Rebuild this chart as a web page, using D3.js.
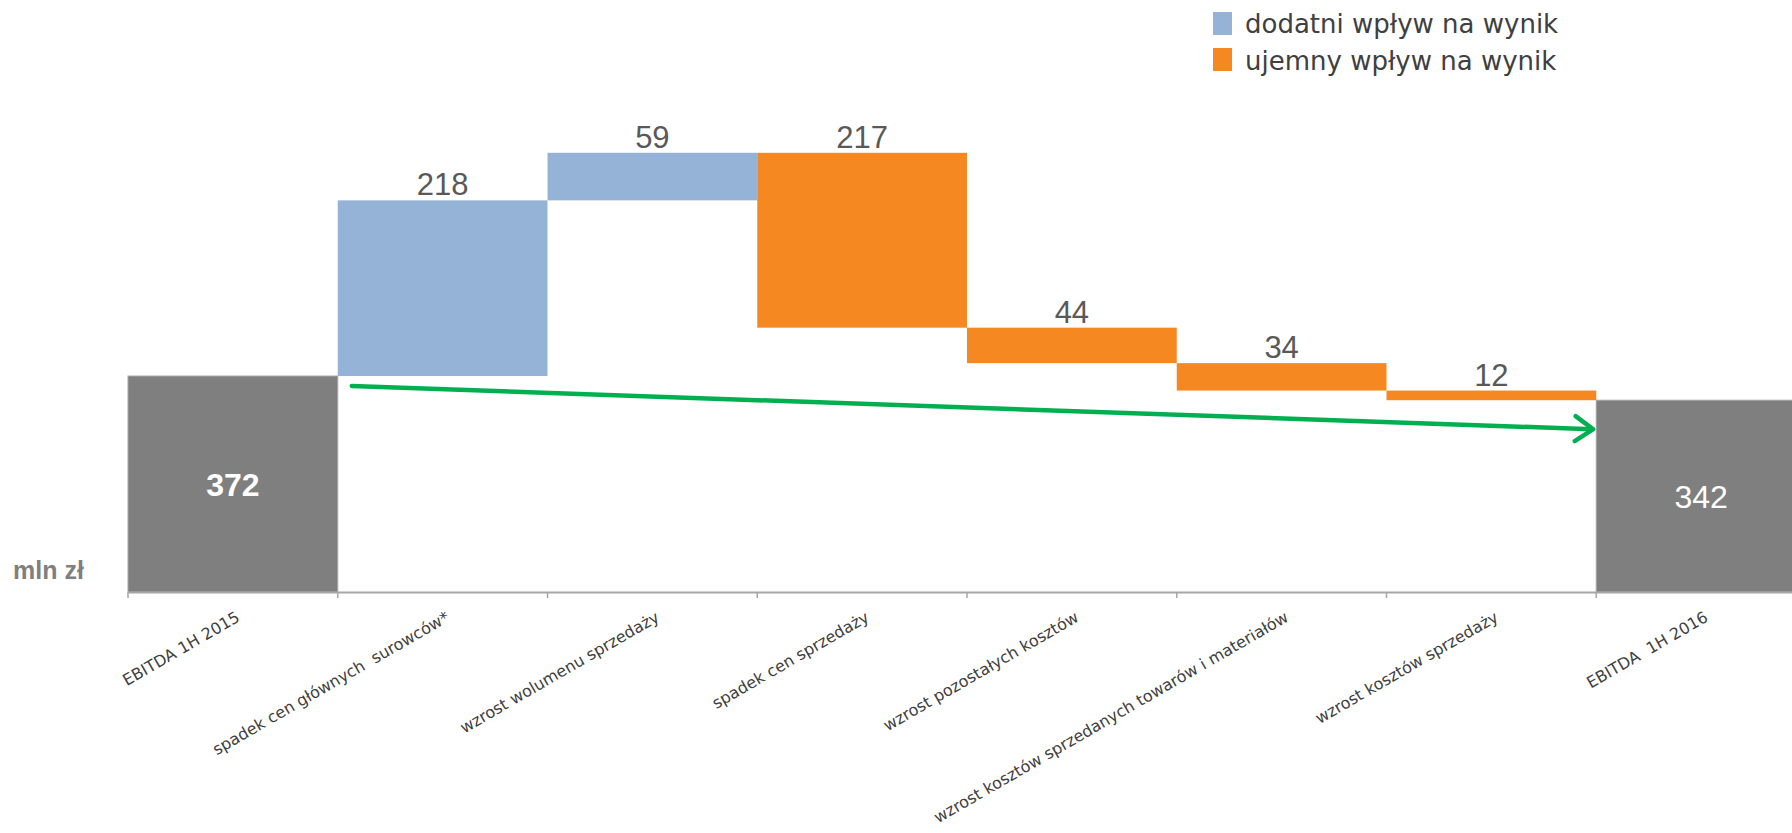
<!DOCTYPE html>
<html>
<head>
<meta charset="utf-8">
<script src="https://cdn.jsdelivr.net/npm/d3@7"></script>
<style>
  html, body { margin: 0; padding: 0; background: #ffffff; }
  svg { display: block; }
  text { white-space: pre; }
</style>
</head>
<body>
<svg id="chart" width="1792" height="833"></svg>
<script>
// ---- data ----
const categories = [
  "EBITDA 1H 2015",
  "spadek cen głównych  surowców*",
  "wzrost wolumenu sprzedaży",
  "spadek cen sprzedaży",
  "wzrost pozostałych kosztów",
  "wzrost kosztów sprzedanych towarów i materiałów",
  "wzrost kosztów sprzedaży",
  "EBITDA  1H 2016"
];
const values = [372, 218, 59, -217, -44, -34, -12, 342];
const kinds = ["total", "pos", "pos", "neg", "neg", "neg", "neg", "total"];
const legendLabels = ["dodatni wpływ na wynik", "ujemny wpływ na wynik"];
const unitLabel = "mln zł";

// ---- styles ----
const colors = { total: "#7f7f7f", pos: "#95b3d7", neg: "#f58820" };
const arrowColor = "#00b050";

const svg = d3.select("#chart");

// scales
const x = d3.scaleBand().domain(categories).range([128, 1806]).padding(0);
const y = d3.scaleLinear().domain([104, 650]).range([592, 152]);

// waterfall geometry
let running = 0;
const bars = categories.map((c, i) => {
  const v = values[i];
  let lo, hi;
  if (kinds[i] === "total") {
    lo = y.domain()[0]; hi = v; running = v;
  } else {
    const start = running; const end = running + v;
    lo = Math.min(start, end); hi = Math.max(start, end); running = end;
  }
  return { c, v, kind: kinds[i], lo, hi };
});

// bars
svg.append("g").selectAll("rect").data(bars).join("rect")
  .attr("x", d => x(d.c))
  .attr("width", x.bandwidth())
  .attr("y", d => y(d.hi))
  .attr("height", d => y(d.lo) - y(d.hi))
  .attr("fill", d => colors[d.kind])
  .attr("stroke", d => d.kind === "total" ? "#a5a5a5" : "none")
  .attr("stroke-width", 1);

// axis
const axis = d3.axisBottom(x).tickSize(0).tickFormat("");
const gAxis = svg.append("g").attr("transform", `translate(0,${y.range()[0]})`).call(axis);
gAxis.select(".domain").attr("stroke", "#a6a6a6").attr("stroke-width", 2);
// tick marks at band boundaries
const edges = categories.map(c => x(c)).concat([x.range()[1]]);
gAxis.selectAll("line.edge").data(edges).join("line")
  .attr("class", "edge")
  .attr("x1", d => d).attr("x2", d => d)
  .attr("y1", 0).attr("y2", 6)
  .attr("stroke", "#a6a6a6").attr("stroke-width", 1.5);

// category labels (rotated)
svg.append("g").selectAll("text").data(categories).join("text")
  .attr("transform", c => `translate(${x(c) + x.bandwidth() / 2 + 2},${y.range()[0] + 18}) rotate(-30)`)
  .attr("text-anchor", "end")
  .attr("dy", "0.75em")
  .attr("font-family", "'DejaVu Sans', sans-serif")
  .attr("font-size", 16)
  .attr("fill", "#404040")
  .text(c => c);

// delta labels above bars
svg.append("g").selectAll("text").data(bars.filter(d => d.kind !== "total")).join("text")
  .attr("x", d => x(d.c) + x.bandwidth() / 2)
  .attr("y", d => y(d.hi) - 5)
  .attr("text-anchor", "middle")
  .attr("font-family", "'Liberation Sans', Arial, sans-serif")
  .attr("font-size", 31)
  .attr("fill", "#595959")
  .text(d => Math.abs(d.v));

// total labels inside bars
svg.append("g").selectAll("text").data(bars.filter(d => d.kind === "total")).join("text")
  .attr("x", d => x(d.c) + x.bandwidth() / 2)
  .attr("y", d => (y(d.hi) + y(d.lo)) / 2)
  .attr("dy", "0.36em")
  .attr("text-anchor", "middle")
  .attr("font-family", "'Liberation Sans', Arial, sans-serif")
  .attr("font-size", 32)
  .attr("font-weight", (d, i) => i === 0 ? "bold" : "normal")
  .attr("fill", "#ffffff")
  .text(d => d.v);

// unit label
svg.append("text")
  .attr("x", 13).attr("y", 579)
  .attr("font-family", "'Liberation Sans', Arial, sans-serif")
  .attr("font-size", 25)
  .attr("font-weight", "bold")
  .attr("fill", "#7f7f7f")
  .text(unitLabel);

// green trend arrow (from first total to final total)
const x0 = x(categories[1]) + 14, y0 = y(values[0]) + 10;
const x1 = x(categories[7]) - 3, y1 = y(values[7]) + 29;
const ang = Math.atan2(y1 - y0, x1 - x0);
const headLen = 22, headAng = Math.PI / 5.2;
const gArrow = svg.append("g")
  .attr("stroke", arrowColor).attr("stroke-width", 4.5)
  .attr("stroke-linecap", "round").attr("stroke-linejoin", "round").attr("fill", "none");
gArrow.append("line").attr("x1", x0).attr("y1", y0).attr("x2", x1 - 2).attr("y2", y1);
gArrow.append("path").attr("d", d3.line()([
  [x1 - headLen * Math.cos(ang - headAng), y1 - headLen * Math.sin(ang - headAng)],
  [x1, y1],
  [x1 - headLen * Math.cos(ang + headAng), y1 - headLen * Math.sin(ang + headAng)]
]));

// legend
const legend = svg.append("g");
const legendKinds = ["pos", "neg"];
const legendY = [12, 48];
legend.selectAll("rect").data(legendKinds).join("rect")
  .attr("x", 1213).attr("y", (d, i) => legendY[i])
  .attr("width", 19).attr("height", 23)
  .attr("fill", d => colors[d]);
legend.selectAll("text").data(legendLabels).join("text")
  .attr("x", 1245).attr("y", (d, i) => legendY[i] + 21 + (i === 1 ? 1 : 0))
  .attr("font-family", "'DejaVu Sans', sans-serif")
  .attr("font-size", 26)
  .attr("fill", "#404040")
  .text(d => d);
</script>
</body>
</html>
